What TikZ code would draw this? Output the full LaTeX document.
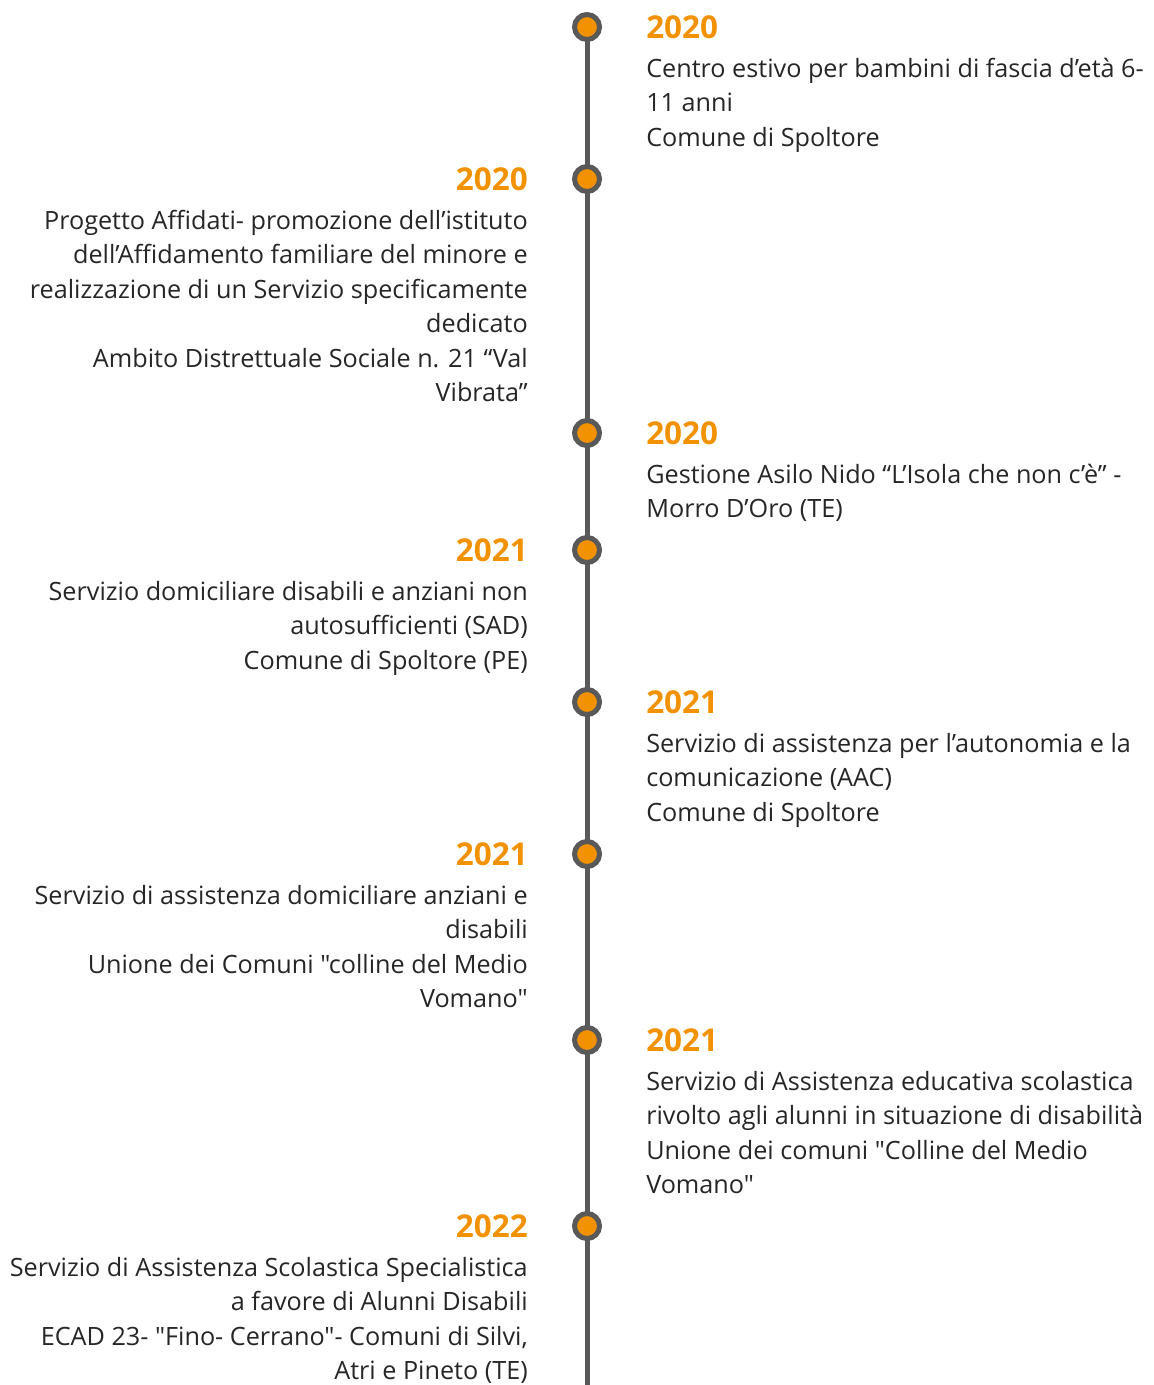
\documentclass[tikz,border=0pt]{standalone}
\usepackage{fontspec}
\setmainfont{Open Sans}[Ligatures=TeXOff]
\definecolor{tlorange}{HTML}{F39200}
\definecolor{tlgray}{HTML}{595959}
\definecolor{tltext}{HTML}{262626}
\tikzset{
  tldot/.style={circle, fill=tlorange, draw=tlgray, line width=3.75pt, minimum size=18.75pt, inner sep=0pt},
  tlline/.style={draw=tlgray, line width=3.75pt},
  yr/.style={font=\fontsize{23.6}{28}\selectfont\bfseries, text=tlorange, inner sep=0pt},
  txt/.style={font=\fontsize{18.9}{22}\selectfont, text=tltext, inner sep=0pt},
}
\newcommand\tlright[4]{%
  \node[yr, anchor=base west] (#1y) at (646,#2+11) {#3};
  \foreach \l [count=\i] in {#4}
    \node[txt, anchor=base west] (#1l\i) at (646,#2+50.5+34.4*\i-34.4) {\l};
}
\newcommand\tlleft[4]{%
  \node[yr, anchor=base east] (#1y) at (528,#2+11) {#3};
  \foreach \l [count=\i] in {#4}
    \node[txt, anchor=base east] (#1l\i) at (528,#2+50.5+34.4*\i-34.4) {\l};
}
\begin{document}
\begin{tikzpicture}[x=0.75pt,y=-0.75pt]
\useasboundingbox (0,0) rectangle (1153,1385);
\coordinate (c1) at (587,27);
\coordinate (c2) at (587,179);
\coordinate (c3) at (587,433);
\coordinate (c4) at (587,550);
\coordinate (c5) at (587,702);
\coordinate (c6) at (587,854);
\coordinate (c7) at (587,1040);
\coordinate (c8) at (587,1226);
\coordinate (cend) at (587,1390);
\draw[tlline] (c1) -- (cend);
\foreach \k in {1,...,8} \node[tldot] (d\k) at (c\k) {};

\tlright{a}{27}{2020}{Centro estivo per bambini di fascia d’età 6-,11 anni,Comune di Spoltore}
\tlleft{b}{179}{2020}{Progetto Affidati- promozione dell’istituto,dell’Affidamento familiare del minore e,realizzazione di un Servizio specificamente,dedicato,Ambito Distrettuale Sociale n. 21 “Val,Vibrata”}
\tlright{c}{433}{2020}{Gestione Asilo Nido “L’Isola che non c’è” -,Morro D’Oro (TE)}
\tlleft{d}{550}{2021}{Servizio domiciliare disabili e anziani non,autosufficienti (SAD),Comune di Spoltore (PE)}
\tlright{e}{702}{2021}{Servizio di assistenza per l’autonomia e la,comunicazione (AAC),Comune di Spoltore}
\tlleft{f}{854}{2021}{Servizio di assistenza domiciliare anziani e,disabili,Unione dei Comuni "colline del Medio,Vomano"}
\tlright{g}{1040}{2021}{Servizio di Assistenza educativa scolastica,rivolto agli alunni in situazione di disabilità,Unione dei comuni "Colline del Medio,Vomano"}
\tlleft{h}{1226}{2022}{Servizio di Assistenza Scolastica Specialistica,a favore di Alunni Disabili,{ECAD 23- "Fino- Cerrano"- Comuni di Silvi,},Atri e Pineto (TE)}
\end{tikzpicture}
\end{document}
